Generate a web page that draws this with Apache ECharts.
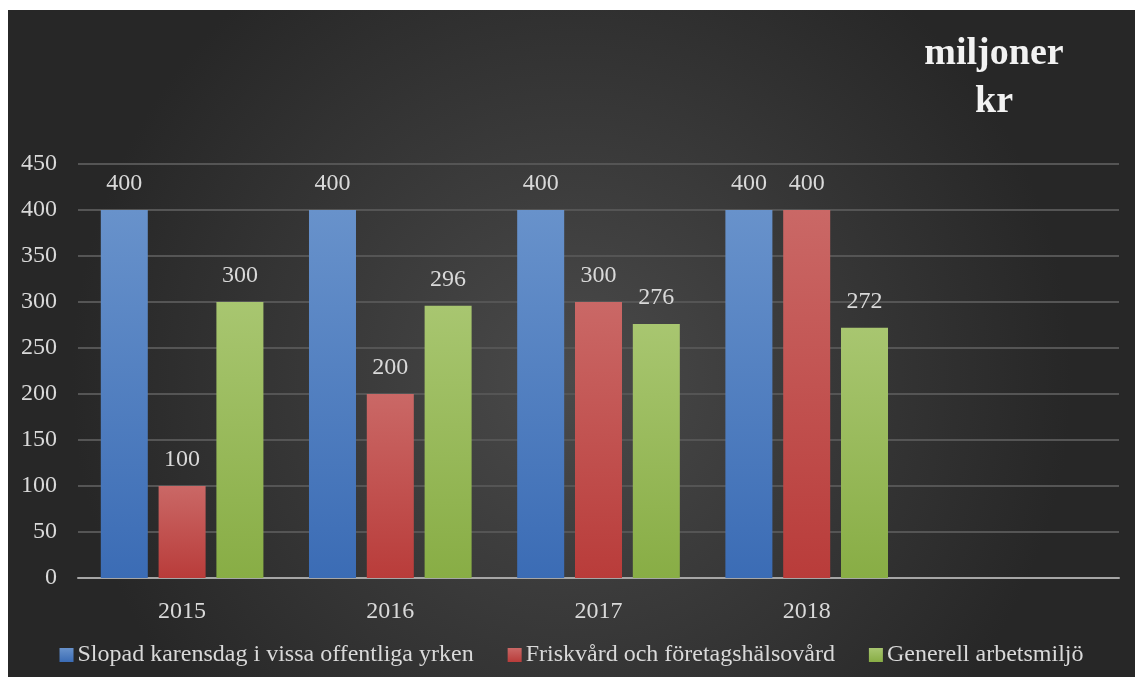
<!DOCTYPE html>
<html>
<head>
<meta charset="utf-8">
<script src="https://cdn.jsdelivr.net/npm/echarts@6/dist/echarts.min.js"></script>
<style>
html,body{margin:0;padding:0;background:#ffffff;width:1135px;height:677px;overflow:hidden;}
#chart{position:absolute;left:8px;top:10px;width:1127px;height:667px;}
</style>
</head>
<body>
<div id="chart"></div>
<script>
const categories = ["2015", "2016", "2017", "2018", ""];
const seriesNames = ["Slopad karensdag i vissa offentliga yrken", "Friskvård och företagshälsovård", "Generell arbetsmiljö"];
const slopad = [400, 400, 400, 400, null];
const friskvard = [100, 200, 300, 400, null];
const generell = [300, 296, 276, 272, null];
const titleText = "miljoner\nkr";

function grad(top, bottom) {
  return {type: 'linear', x: 0, y: 0, x2: 0, y2: 1, colorStops: [{offset: 0, color: top}, {offset: 1, color: bottom}]};
}
const colors = [grad('#6892cb', '#3b6cb5'), grad('#ca6866', '#b93c3a'), grad('#a8c670', '#88ad45')];
const font = 'Liberation Serif, Times New Roman, serif';
const labelStyle = {show: true, position: 'top', distance: 14, color: '#d9d9d9', fontFamily: font, fontSize: 24};

const chart = echarts.init(document.getElementById('chart'));
chart.setOption({
  backgroundColor: {type: 'radial', x: 0.5, y: 0.55, r: 0.75, colorStops: [{offset: 0, color: '#4a4a4a'}, {offset: 1, color: '#272727'}]},
  animation: false,
  graphic: [{
    type: 'text', x: 986, y: 20,
    style: {text: titleText, align: 'center', verticalAlign: 'top', fill: '#f2f2f2', fontFamily: font, fontWeight: 'bold', fontSize: 38, lineHeight: 48}
  }],
  legend: {
    data: seriesNames, bottom: 5, left: 'center', itemWidth: 14, itemHeight: 14, itemGap: 34,
    icon: 'rect', textStyle: {color: '#d9d9d9', fontFamily: font, fontSize: 24, padding: [0, 0, 0, -1]}
  },
  grid: {left: 70, right: 16, top: 154, bottom: 99},
  xAxis: {
    type: 'category', data: categories,
    axisLine: {lineStyle: {color: '#a6a6a6', width: 2}},
    axisTick: {show: false},
    axisLabel: {color: '#d9d9d9', fontFamily: font, fontSize: 24, margin: 22}
  },
  yAxis: {
    type: 'value', min: 0, max: 450, interval: 50,
    axisLine: {show: false}, axisTick: {show: false},
    axisLabel: {color: '#d9d9d9', fontFamily: font, fontSize: 24, margin: 21},
    splitLine: {lineStyle: {color: '#555555', width: 2}}
  },
  series: [
    {name: seriesNames[0], type: 'bar', data: slopad, barWidth: 47, barGap: '23%', itemStyle: {color: colors[0]}, label: labelStyle},
    {name: seriesNames[1], type: 'bar', data: friskvard, barWidth: 47, barGap: '23%', itemStyle: {color: colors[1]}, label: labelStyle},
    {name: seriesNames[2], type: 'bar', data: generell, barWidth: 47, barGap: '23%', itemStyle: {color: colors[2]}, label: labelStyle}
  ]
});
</script>
</body>
</html>
